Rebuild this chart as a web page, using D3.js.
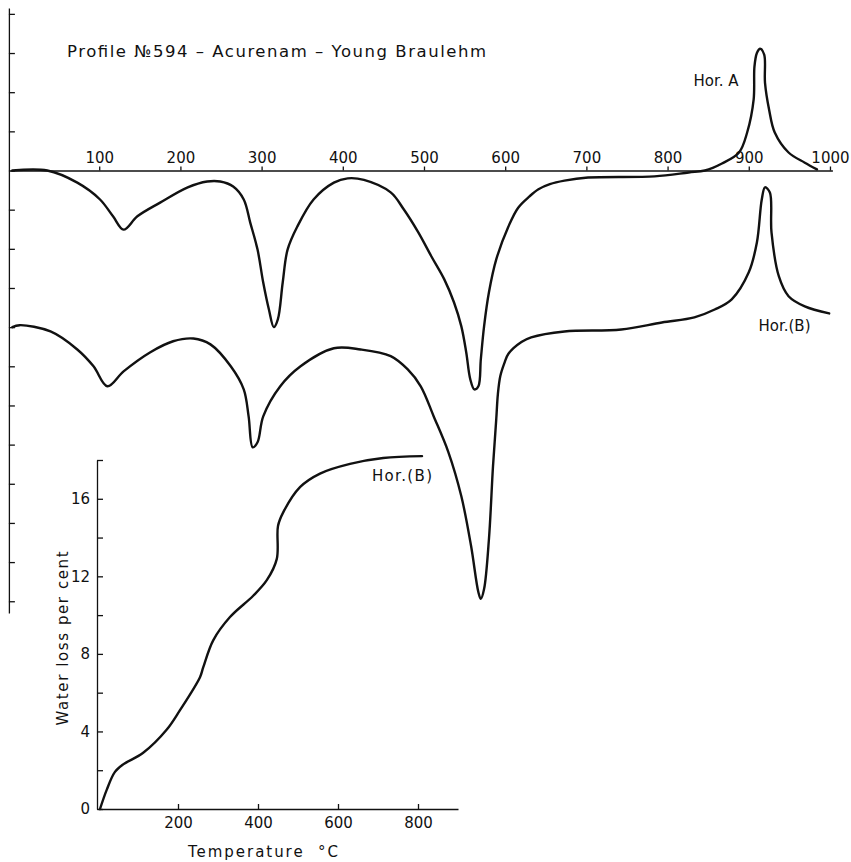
<!DOCTYPE html>
<html>
<head>
<meta charset="utf-8">
<script src="https://d3js.org/d3.v7.min.js"></script>
<style>
  body { margin:0; background:#fff; }
  svg { display:block; }
  text { font-family:"DejaVu Sans", sans-serif; fill:#111; }
  .axis path, .axis line { stroke:#111; stroke-width:1.3; }
  .axis text { font-family:"DejaVu Sans", sans-serif; font-size:15px; fill:#111; }
  .curve { fill:none; stroke:#111; stroke-width:2.4; stroke-linejoin:round; stroke-linecap:round; }
</style>
</head>
<body>
<div class="chart"></div>
<script>
// DTA curves: temperature (°C) against deflection, in units of the left-hand ticks
const tempA = [-7, 36, 73, 101, 117, 130, 147, 175, 209, 233, 249, 265, 278, 286, 295, 302, 309, 315, 320, 326, 332, 344, 364, 389, 406, 426, 459, 475, 493, 509, 525, 537, 546, 552, 557, 562, 567, 570, 574, 580, 589, 604, 616, 630, 641, 655, 673, 702, 784, 826, 846, 867, 888, 898, 906, 907, 910, 914, 919, 920, 925, 932, 949, 969, 984];
const dtaA  = [0, 0, -0.31, -0.74, -1.17, -1.51, -1.17, -0.82, -0.43, -0.28, -0.28, -0.41, -0.74, -1.33, -2.02, -2.86, -3.55, -4.0, -3.8, -2.86, -2.02, -1.43, -0.74, -0.31, -0.2, -0.24, -0.56, -0.99, -1.58, -2.19, -2.78, -3.37, -3.98, -4.64, -5.33, -5.59, -5.51, -4.82, -3.98, -3.11, -2.27, -1.43, -0.95, -0.66, -0.48, -0.35, -0.26, -0.18, -0.15, -0.05, 0, 0.18, 0.46, 0.97, 1.81, 2.65, 3.0, 3.11, 2.96, 2.24, 1.56, 0.97, 0.46, 0.2, 0.03];

const tempB = [-7, 2, 40, 73, 93, 110, 130, 163, 191, 216, 237, 262, 278, 284, 289, 295, 302, 323, 348, 389, 422, 459, 480, 496, 512, 530, 546, 558, 567, 570, 574, 580, 585, 589, 591, 594, 599, 604, 620, 632, 673, 743, 793, 833, 858, 879, 900, 910, 916, 920, 926, 928, 937, 949, 969, 999];
const dtaB  = [-4.0, -3.95, -4.11, -4.57, -5.0, -5.51, -5.13, -4.64, -4.36, -4.29, -4.44, -5.0, -5.59, -6.28, -7.07, -6.94, -6.28, -5.51, -5.0, -4.54, -4.57, -4.74, -5.08, -5.51, -6.28, -7.19, -8.32, -9.59, -10.77, -10.94, -10.69, -9.41, -7.55, -6.35, -5.71, -5.25, -4.92, -4.68, -4.38, -4.26, -4.11, -4.06, -3.88, -3.75, -3.55, -3.29, -2.6, -1.84, -0.74, -0.43, -0.56, -1.58, -2.7, -3.21, -3.47, -3.65];

// water loss curve (inset)
const tempW = [5, 22, 42, 63, 113, 172, 205, 255, 263, 288, 330, 388, 422, 447, 450, 463, 505, 555, 630, 713, 810];
const lossW = [0, 1.0, 1.9, 2.3, 2.9, 4.1, 5.1, 6.8, 7.3, 8.7, 9.9, 11.0, 11.8, 12.9, 14.6, 15.3, 16.6, 17.3, 17.8, 18.1, 18.2];

const dtaTempTicks = [100, 200, 300, 400, 500, 600, 700, 800, 900, 1000];
const dtaLevelTicks = d3.range(-11, 5);
const wTempTicks = [200, 400, 600, 800];
const wLossTicks = d3.range(0, 19, 2);

const width = 851, height = 862;

const svg = d3.select('.chart')
  .append('svg')
    .attr('width', width)
    .attr('height', height);

// ---- DTA panel ----
const xDta = d3.scaleLinear().domain([-10, 1003]).range([9.9, 832.4]);
const yDta = d3.scaleLinear().domain([-11.3, 4.15]).range([613, 8]);

svg.append('g')
  .attr('class', 'axis')
  .attr('transform', `translate(0,${yDta(0)})`)
  .call(d3.axisTop(xDta).tickValues(dtaTempTicks).tickFormat(d3.format('d'))
    .tickSizeInner(4).tickSizeOuter(0).tickPadding(4));

svg.append('g')
  .attr('class', 'axis')
  .attr('transform', `translate(${xDta(-10) - 1},0)`)
  .call(d3.axisRight(yDta).tickValues(dtaLevelTicks).tickSizeInner(6).tickSizeOuter(0).tickFormat(''));

const lineDta = d3.line()
  .x(d => xDta(d[0]))
  .y(d => yDta(d[1]))
  .curve(d3.curveCatmullRom.alpha(0.5));

svg.append('path')
  .attr('class', 'curve')
  .attr('d', lineDta(d3.zip(tempA, dtaA)));

svg.append('path')
  .attr('class', 'curve')
  .attr('d', lineDta(d3.zip(tempB, dtaB)));

svg.append('text')
  .attr('x', 67).attr('y', 57)
  .attr('textLength', 419)
  .attr('lengthAdjust', 'spacing')
  .style('font-size', '16.5px')
  .text('Profile  №594 – Acurenam – Young Braulehm');

svg.append('text')
  .attr('x', xDta(832)).attr('y', yDta(2.15))
  .style('font-size', '15px')
  .text('Hor. A');

svg.append('text')
  .attr('x', xDta(912)).attr('y', yDta(-4.1))
  .style('font-size', '15px')
  .text('Hor.(B)');

// ---- water loss inset ----
const xW = d3.scaleLinear().domain([0, 900]).range([98, 458]);
const yW = d3.scaleLinear().domain([0, 18]).range([809, 460]);

svg.append('g')
  .attr('class', 'axis')
  .attr('transform', `translate(0,${yW(0)})`)
  .call(d3.axisBottom(xW).tickValues(wTempTicks).tickSizeInner(-5).tickSizeOuter(0).tickPadding(8));

svg.append('g')
  .attr('class', 'axis')
  .attr('transform', `translate(${xW(0) - 1},0)`)
  .call(d3.axisLeft(yW).tickValues(wLossTicks).tickSizeInner(-6).tickSizeOuter(0).tickPadding(7)
    .tickFormat(d => d % 4 === 0 ? d : ''));

const lineW = d3.line()
  .x(d => xW(d[0]))
  .y(d => yW(d[1]))
  .curve(d3.curveCatmullRom.alpha(0.5));

svg.append('path')
  .attr('class', 'curve')
  .attr('d', lineW(d3.zip(tempW, lossW)));

svg.append('text')
  .attr('x', xW(685)).attr('y', yW(16.9))
  .attr('textLength', 60)
  .style('font-size', '15px')
  .text('Hor.(B)');

svg.append('text')
  .attr('x', xW(225)).attr('y', 857)
  .attr('textLength', 150)
  .attr('lengthAdjust', 'spacing')
  .style('font-size', '15px')
  .style('white-space', 'pre')
  .text('Temperature  °C');

svg.append('text')
  .attr('transform', `translate(68,${yW(8.8)}) rotate(-90)`)
  .attr('text-anchor', 'middle')
  .attr('textLength', 174)
  .attr('lengthAdjust', 'spacing')
  .style('font-size', '15px')
  .text('Water loss per cent');
</script>
</body>
</html>
